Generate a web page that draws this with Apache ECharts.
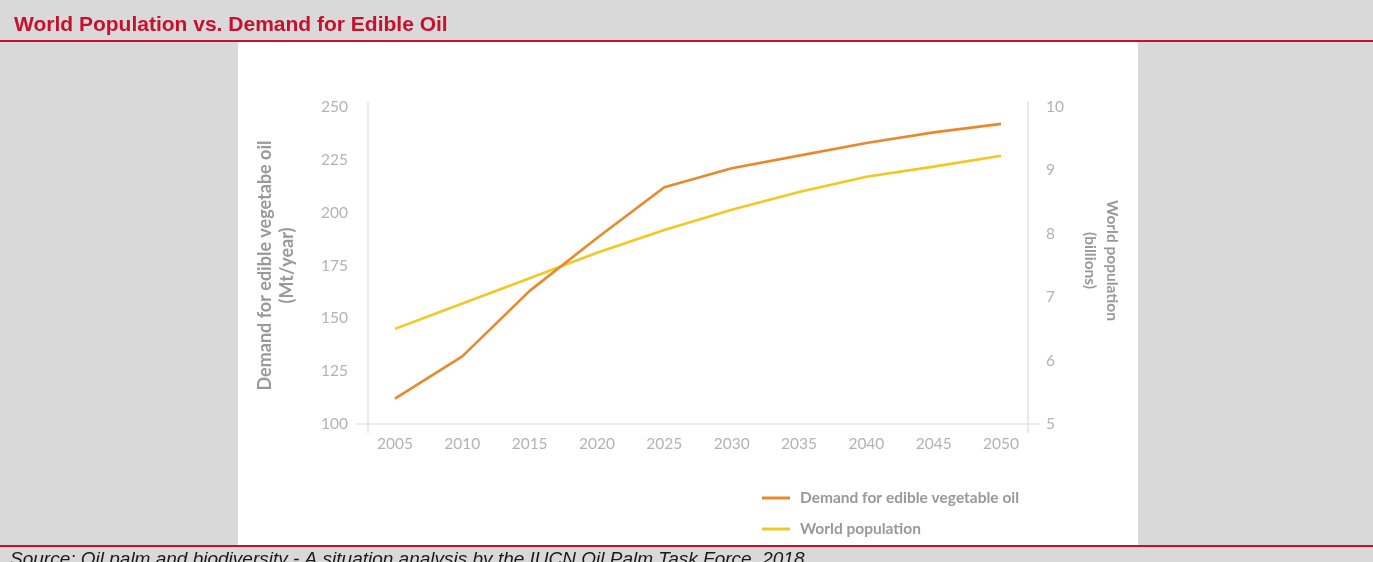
<!DOCTYPE html>
<html>
<head>
<meta charset="utf-8">
<script src="https://cdn.jsdelivr.net/npm/echarts@6/dist/echarts.min.js"></script>
<style>
html,body{margin:0;padding:0;background:#d9d9d9;}
#chart{width:1373px;height:562px;}
</style>
</head>
<body>
<div id="chart"></div>
<script>
const years = [2005, 2010, 2015, 2020, 2025, 2030, 2035, 2040, 2045, 2050];
const oilDemand = [112, 132, 163, 188, 212, 221, 227, 233, 238, 242];
const worldPopulation = [6.5, 6.9, 7.3, 7.7, 8.06, 8.38, 8.66, 8.9, 9.06, 9.23];
const leftTicks = [100, 125, 150, 175, 200, 225, 250];
const rightTicks = [5, 6, 7, 8, 9, 10];

const titleText = 'World Population vs. Demand for Edible Oil';
const sourceText = 'Source: Oil palm and biodiversity - A situation analysis by the IUCN Oil Palm Task Force, 2018';

const ORANGE = '#e8892c';
const YELLOW = '#f2c822';
const AXIS_TEXT = '#b3b3b3';
const NAME_TEXT = '#999999';
const FONT = 'Lato, "Open Sans", sans-serif';

const chart = echarts.init(document.getElementById('chart'));

const baseGraphics = [
  {type:'rect', silent:true, z:-10, shape:{x:238, y:42, width:900, height:503}, style:{fill:'#ffffff'}},
  {type:'rect', silent:true, z:-5, shape:{x:0, y:40, width:1373, height:2}, style:{fill:'#c8102e'}},
  {type:'rect', silent:true, z:-5, shape:{x:0, y:545, width:1373, height:2}, style:{fill:'#c8102e'}}
];

const option = {
  backgroundColor: '#d9d9d9',
  animation: false,
  title: [
    {text: titleText, left: 9, top: 10,
     textStyle:{fontFamily:'"Liberation Sans", Arial, sans-serif', fontSize:21, fontWeight:'bold', color:'#c8102e'}},
    {text: sourceText, left: 5, top: 545,
     textStyle:{fontFamily:'"Liberation Sans", Arial, sans-serif', fontSize:19, fontStyle:'italic', fontWeight:'normal', color:'#1a1a1a'}}
  ],
  grid: {left: 368, right: 345, top: 107, bottom: 138, containLabel:false},
  legend: {
    orient:'vertical', left: 757, top: 485, itemGap: 15,
    icon:'rect', itemWidth: 28, itemHeight: 3,
    textStyle:{fontFamily:FONT, fontSize:15.5, fontWeight:'bold', color:NAME_TEXT, padding:[0,0,0,5]},
    data:['Demand for edible vegetable oil', 'World population']
  },
  xAxis: {
    type:'value', min:2003, max:2052, interval:1,
    axisLine:{show:false}, axisTick:{show:false}, splitLine:{show:false},
    axisLabel:{
      margin: 12, color: AXIS_TEXT, fontFamily: FONT, fontSize: 15.5,
      formatter: v => years.indexOf(v) >= 0 ? String(v) : ''
    }
  },
  yAxis: [
    {
      type:'value', min: leftTicks[0], max: leftTicks[leftTicks.length-1], interval: 25, position:'left',
      axisLine:{show:false}, axisTick:{show:false}, splitLine:{show:false},
      axisLabel:{margin: 20, color: AXIS_TEXT, fontFamily: FONT, fontSize: 15.5},
      name:'Demand for edible vegetabe oil\n(Mt/year)', nameLocation:'middle', nameRotate:90, nameGap: 70,
      nameTextStyle:{fontFamily:FONT, fontSize:18, fontWeight:'bold', color:NAME_TEXT, lineHeight:22}
    },
    {
      type:'value', min: rightTicks[0], max: rightTicks[rightTicks.length-1], interval: 1, position:'right',
      axisLine:{show:false}, axisTick:{show:false}, splitLine:{show:false},
      axisLabel:{margin: 18, color: AXIS_TEXT, fontFamily: FONT, fontSize: 15.5},
      name:'World population\n(billions)', nameLocation:'middle', nameRotate:-90, nameGap: 51,
      nameTextStyle:{fontFamily:FONT, fontSize:15.5, fontWeight:'bold', color:NAME_TEXT, lineHeight:22, padding:[0,10,0,0]}
    }
  ],
  series: [
    {
      name:'Demand for edible vegetable oil', type:'line', yAxisIndex:0,
      data: years.map((y,i)=>[y, oilDemand[i]]),
      showSymbol:false, symbol:'none', lineStyle:{color:ORANGE, width:2.6}, itemStyle:{color:ORANGE}, z:3
    },
    {
      name:'World population', type:'line', yAxisIndex:1,
      data: years.map((y,i)=>[y, worldPopulation[i]]),
      showSymbol:false, symbol:'none', lineStyle:{color:YELLOW, width:2.6}, itemStyle:{color:YELLOW}, z:2
    }
  ],
  graphic: baseGraphics
};

chart.setOption(option);

// Axis frame lines (decorative), placed via the chart's own scales
const pLB = chart.convertToPixel({gridIndex:0}, [2003, leftTicks[0]]);
const pRT = chart.convertToPixel({gridIndex:0}, [2052, leftTicks[leftTicks.length-1]]);
const L = pLB[0], B = pLB[1], R = pRT[0], T = pRT[1];
const axisStyle = {stroke:'#e2e2e2', lineWidth:1.5};
chart.setOption({
  graphic: baseGraphics.concat([
    {type:'line', silent:true, z:1, shape:{x1:L-11, y1:B, x2:R+12, y2:B}, style:axisStyle},
    {type:'line', silent:true, z:1, shape:{x1:L, y1:T-5, x2:L, y2:B+9}, style:axisStyle},
    {type:'line', silent:true, z:1, shape:{x1:R, y1:T-5, x2:R, y2:B+9}, style:axisStyle}
  ])
});
</script>
</body>
</html>
